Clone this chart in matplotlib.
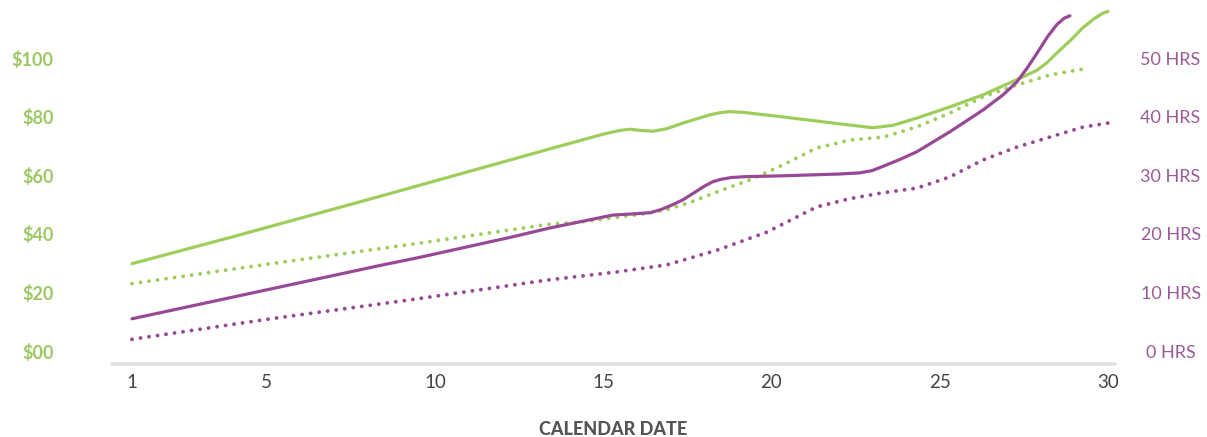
import matplotlib
matplotlib.use('Agg')
import matplotlib.pyplot as plt

GREEN = '#9fcd5b'
PURPLE = '#984995'

# spending, solid green ($)
spend_days = [1.0, 4.0, 8.37, 13.42, 15.0, 15.5, 15.79, 16.1, 16.48, 16.9, 17.37, 17.8, 18.17, 18.5,
              18.77, 19.2, 20.34, 21.83, 23.01, 23.6, 24.32, 25.30, 26.28, 27.29, 27.89,
              28.2, 28.48, 28.9, 29.25, 29.6, 29.85, 30.0]
spend = [29.8, 39.0, 52.8, 69.0, 74.0, 75.3, 75.7, 75.3, 75.0, 75.9, 77.8, 79.3, 80.6, 81.4,
         81.7, 81.4, 79.9, 77.8, 76.2, 77.0, 79.5, 83.3, 87.4, 92.6, 95.8,
         98.5, 101.7, 106.2, 110.3, 113.5, 115.3, 115.9]

# budget, dotted green ($)
budget_days = [1.0, 5.0, 9.35, 13.42, 14.31, 16.39, 16.9, 17.6, 18.38, 19.36, 20.34, 21.35,
               22.33, 23.31, 23.73, 24.32, 25.30, 26.28, 27.29, 28.27, 29.25, 29.37]
budget = [23.0, 29.6, 36.5, 43.3, 44.0, 47.1, 48.3, 50.8, 54.3, 58.4, 63.5, 69.3,
          72.0, 73.0, 74.4, 76.5, 81.2, 86.7, 90.8, 94.2, 96.2, 96.4]

# hours worked, solid purple
hours_days = [1.0, 4.0, 8.37, 9.56, 12.32, 13.42, 15.29, 15.88, 16.39, 16.7, 17.0, 17.37, 17.7,
              18.0, 18.26, 18.5, 18.8, 19.2, 20.34, 22.0, 22.63, 23.0, 23.31, 23.82, 24.32,
              25.30, 26.28, 26.88, 27.29, 27.6, 27.89, 28.2, 28.48, 28.7, 28.87]
hours = [5.5, 9.2, 14.6, 16.0, 19.5, 21.0, 23.2, 23.4, 23.6, 24.1, 24.8, 25.8, 27.0,
         28.1, 28.9, 29.3, 29.6, 29.75, 29.9, 30.2, 30.4, 30.8, 31.5, 32.7, 34.0,
         37.4, 41.1, 43.7, 45.9, 48.3, 50.8, 53.6, 55.7, 56.8, 57.2]

# planned hours, dotted purple
plan_days = [1.0, 5.0, 9.35, 13.33, 15.41, 16.89, 18.38, 19.87, 21.35, 22.33, 23.31, 24.32,
             25.30, 26.28, 27.29, 28.27, 29.25, 30.0]
plan = [2.0, 5.4, 8.8, 12.1, 13.5, 14.7, 17.2, 20.3, 24.6, 26.0, 27.0, 27.8,
        29.7, 32.6, 34.8, 36.5, 38.2, 38.9]

x_ticks = [1, 5, 10, 15, 20, 25, 30]
dollar_ticks = [0, 20, 40, 60, 80, 100]
dollar_labels = ['$00', '$20', '$40', '$60', '$80', '$100']
hour_ticks = [0, 10, 20, 30, 40, 50]
hour_labels = ['0 HRS', '10 HRS', '20 HRS', '30 HRS', '40 HRS', '50 HRS']

plt.rcParams['font.family'] = ['Lato', 'DejaVu Sans']

fig = plt.figure(figsize=(12.07, 4.37), dpi=100)
ax = fig.add_axes([0.0928, 0.167, 0.831, 0.8216])
ax2 = ax.twinx()

dots = (0, (0.01, 2.2))
ax.plot(spend_days, spend, color=GREEN, lw=2.3, solid_capstyle='round', solid_joinstyle='round', zorder=3)
ax.plot(budget_days, budget, color=GREEN, lw=2.8, linestyle=dots, dash_capstyle='round', zorder=2)
ax2.plot(hours_days, hours, color=PURPLE, lw=2.3, solid_capstyle='round', solid_joinstyle='round', zorder=3)
ax2.plot(plan_days, plan, color=PURPLE, lw=2.8, linestyle=dots, dash_capstyle='round', zorder=2)

ax.set_xlim(0.406, 30.21)
ax.set_ylim(-4.44, 118.1)
ax2.set_ylim(-2.22, 59.05)

ax.set_xticks(x_ticks)
ax.set_xticklabels([str(t) for t in x_ticks], fontsize=13.5, color='#444444')
ax.set_yticks(dollar_ticks)
ax.set_yticklabels(dollar_labels, fontsize=13, color='#9cc862', fontweight='bold')
ax2.set_yticks(hour_ticks)
ax2.set_yticklabels(hour_labels, fontsize=13, color='#9a5a96', ha='center')

ax.tick_params(axis='x', length=0, pad=7)
ax.tick_params(axis='y', length=0, pad=42)
ax2.tick_params(axis='y', length=0, pad=40)

for a in (ax, ax2):
    for s in ('top', 'left', 'right'):
        a.spines[s].set_visible(False)
ax2.spines['bottom'].set_visible(False)
ax.spines['bottom'].set_color('#e0e0e0')
ax.spines['bottom'].set_linewidth(2.6)
ax.spines['bottom'].set_capstyle('round')

ax.set_xlabel('CALENDAR DATE', fontsize=13, fontweight='black', color='#555555', labelpad=22)

fig.savefig('out.png', dpi=100)
